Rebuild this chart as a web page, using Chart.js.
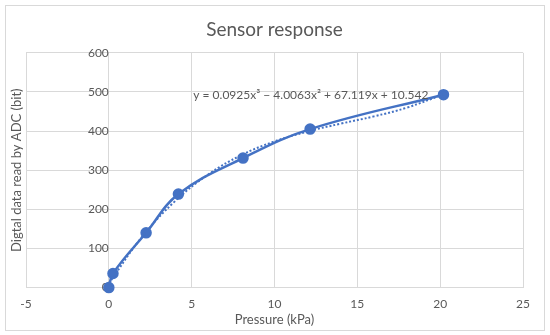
<!DOCTYPE html>
<html>
<head>
<meta charset="utf-8">
<script src="https://cdn.jsdelivr.net/npm/chart.js@4"></script>
<style>
  html, body { margin:0; padding:0; background:#fff; }
  #wrap { position:relative; width:550px; height:335px; }
  #frame { position:absolute; left:5px; top:5px; width:538px; height:324px; border:1px solid #d9d9d9; pointer-events:none; }
</style>
</head>
<body>
<div id="wrap">
  <canvas id="chart" width="550" height="335"></canvas>
  <div id="frame"></div>
</div>
<script>
// measured points
const pressure = [0, 0.25, 2.25, 4.2, 8.1, 12.15, 20.2];
const adc = [0, 36, 140, 239, 331, 405, 493];

// dotted trendline
const trendX = [0, 2, 4, 6, 8, 10, 12, 14, 16, 18, 20.2];
const trendY = [10.5, 129.5, 221, 289, 338.5, 373.5, 399, 419, 437.5, 460, 494];

const xTicks = [-5, 0, 5, 10, 15, 20, 25];
const yTicks = [0, 100, 200, 300, 400, 500, 600];

const equation = "y = 0.0925x\u00B3 \u2212 4.0063x\u00B2 + 67.119x + 10.542";

const blue = "#4472C4";
const grey = "#595959";
const gridColor = "#d9d9d9";
const font = "Lato, 'Liberation Sans', sans-serif";

// axis titles + trendline equation label
const extras = {
  id: "extras",
  afterDraw(chart) {
    const ctx = chart.ctx;
    const a = chart.chartArea;
    ctx.save();
    ctx.fillStyle = grey;
    ctx.font = "13px " + font;
    ctx.textAlign = "center";
    ctx.textBaseline = "middle";
    ctx.fillText("Pressure (kPa)", (a.left + a.right) / 2, a.bottom + 32);
    ctx.translate(17, (a.top + a.bottom) / 2);
    ctx.rotate(-Math.PI / 2);
    ctx.fillText("Digtal data read by ADC (bit)", 0, 0);
    ctx.restore();

    ctx.save();
    ctx.fillStyle = grey;
    ctx.font = "12px " + font;
    ctx.textAlign = "left";
    ctx.textBaseline = "middle";
    ctx.fillText(equation, chart.scales.x.getPixelForValue(5.1), chart.scales.y.getPixelForValue(492));
    ctx.restore();
  }
};

new Chart(document.getElementById("chart").getContext("2d"), {
  type: "scatter",
  data: {
    datasets: [
      {
        label: "trend",
        data: trendX.map((x, i) => ({ x, y: trendY[i] })),
        showLine: true,
        borderColor: blue,
        borderWidth: 2,
        borderDash: [2, 2],
        pointRadius: 0,
        tension: 0.4,
        clip: false
      },
      {
        label: "Sensor",
        data: pressure.map((x, i) => ({ x, y: adc[i] })),
        showLine: true,
        borderColor: blue,
        backgroundColor: blue,
        borderWidth: 2.5,
        pointRadius: 4.5,
        pointBackgroundColor: blue,
        pointBorderColor: blue,
        tension: 0.4,
        clip: false
      }
    ]
  },
  options: {
    responsive: false,
    animation: false,
    layout: { padding: { left: 26, right: 27, top: 0, bottom: 15 } },
    plugins: {
      legend: { display: false },
      tooltip: { enabled: false },
      title: {
        display: true,
        text: "Sensor response",
        color: grey,
        font: { family: font, size: 19, weight: "normal" },
        padding: { top: 18.5, bottom: 11.5 }
      }
    },
    scales: {
      x: {
        type: "linear",
        min: -5, max: 25,
        afterBuildTicks: s => { s.ticks = xTicks.map(v => ({ value: v })); },
        grid: { color: gridColor, drawTicks: false },
        border: { display: false },
        ticks: { color: grey, font: { family: font, size: 12 }, padding: 9 }
      },
      y: {
        type: "linear",
        position: { x: 0 },
        min: 0, max: 600,
        afterBuildTicks: s => { s.ticks = yTicks.map(v => ({ value: v })); },
        grid: { color: gridColor, drawTicks: false },
        border: { display: true, color: gridColor },
        ticks: { color: grey, font: { family: font, size: 12 }, padding: 11 }
      }
    }
  },
  plugins: [extras]
});
</script>
</body>
</html>
